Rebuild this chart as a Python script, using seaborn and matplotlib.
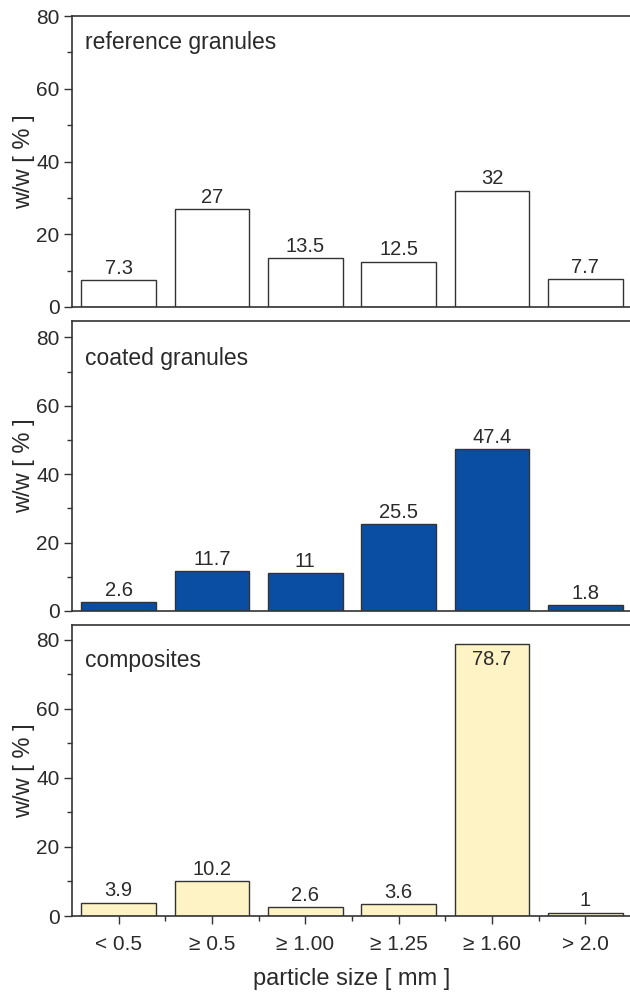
import matplotlib
matplotlib.use("Agg")
import matplotlib.pyplot as plt
import seaborn as sns
import pandas as pd
from matplotlib.ticker import FixedLocator

sns.set_style("ticks")
plt.rcParams['font.family'] = ['Liberation Sans', 'DejaVu Sans']

categories = ["< 0.5", "\u2265 0.5", "\u2265 1.00", "\u2265 1.25", "\u2265 1.60", "> 2.0"]
reference = [7.3, 27, 13.5, 12.5, 32, 7.7]
coated = [2.6, 11.7, 11, 25.5, 47.4, 1.8]
composites = [3.9, 10.2, 2.6, 3.6, 78.7, 1]
ref_labels = ["7.3", "27", "13.5", "12.5", "32", "7.7"]
coat_labels = ["2.6", "11.7", "11", "25.5", "47.4", "1.8"]
comp_labels = ["3.9", "10.2", "2.6", "3.6", "78.7", "1"]
titles = ["reference granules", "coated granules", "composites"]

panels = [
    (reference, ref_labels, "#ffffff", 80),
    (coated, coat_labels, "#0a4ea3", 84.8),
    (composites, comp_labels, "#fdf3c4", 84.3),
]

fig = plt.figure(figsize=(6.3, 9.92), dpi=100)
W, H = 630, 992
boxes = [(16, 307), (321, 611), (625, 916)]
title_off = [27, 38, 36]
left, right = 72, 632
spine_c = "#333333"
txt_c = "#2a2a2a"

for i, ((vals, labs, color, ytop), (yt, yb), title) in enumerate(zip(panels, boxes, titles)):
    ax = fig.add_axes([left / W, 1 - yb / H, (right - left) / W, (yb - yt) / H])
    df = pd.DataFrame({"size": categories, "val": vals})
    sns.barplot(data=df, x="size", y="val", ax=ax, color=color, width=0.8,
                edgecolor=spine_c, linewidth=1.0, saturation=1)
    for p, l in zip(ax.patches, labs):
        h = p.get_height()
        if h + 8 > ytop:
            ax.text(p.get_x() + p.get_width() / 2, h - 1.5, l,
                    ha="center", va="top", fontsize=14.5, color=txt_c)
        else:
            ax.text(p.get_x() + p.get_width() / 2, h + 0.6, l,
                    ha="center", va="bottom", fontsize=14.5, color=txt_c)
    ax.set_xlim(-0.5, 5.5)
    ax.set_ylim(0, ytop)
    ax.yaxis.set_major_locator(FixedLocator([0, 20, 40, 60, 80]))
    ax.yaxis.set_minor_locator(FixedLocator([10, 30, 50, 70]))
    ax.tick_params(axis="y", which="major", direction="out", length=6, width=1.0,
                   labelsize=15, colors=spine_c, labelcolor=txt_c, pad=3)
    ax.tick_params(axis="y", which="minor", direction="out", length=3.5, width=1.0, colors=spine_c)
    ax.set_ylabel("w/w [ % ]", fontsize=17, color=txt_c, labelpad=1)
    ax.set_xlabel("")
    for s in ["left", "top", "bottom"]:
        ax.spines[s].set_visible(True)
        ax.spines[s].set_color(spine_c)
        ax.spines[s].set_linewidth(1.2)
    ax.spines["right"].set_visible(False)
    ax.text(13 / (right - left), 1 - title_off[i] / (yb - yt), title, transform=ax.transAxes,
            fontsize=16.5, color=txt_c, ha="left", va="center")
    if i < 2:
        ax.tick_params(axis="x", which="both", bottom=False, labelbottom=False)
    else:
        ax.xaxis.set_minor_locator(FixedLocator([0.5, 1.5, 2.5, 3.5, 4.5]))
        ax.tick_params(axis="x", which="major", direction="out", length=6, width=1.0,
                       labelsize=15, colors=spine_c, labelcolor=txt_c, pad=8)
        ax.tick_params(axis="x", which="minor", direction="out", length=3.5, width=1.0, colors=spine_c)
        ax.set_xlabel("particle size [ mm ]", fontsize=17, color=txt_c, labelpad=10)

fig.savefig("out.png", dpi=100)
